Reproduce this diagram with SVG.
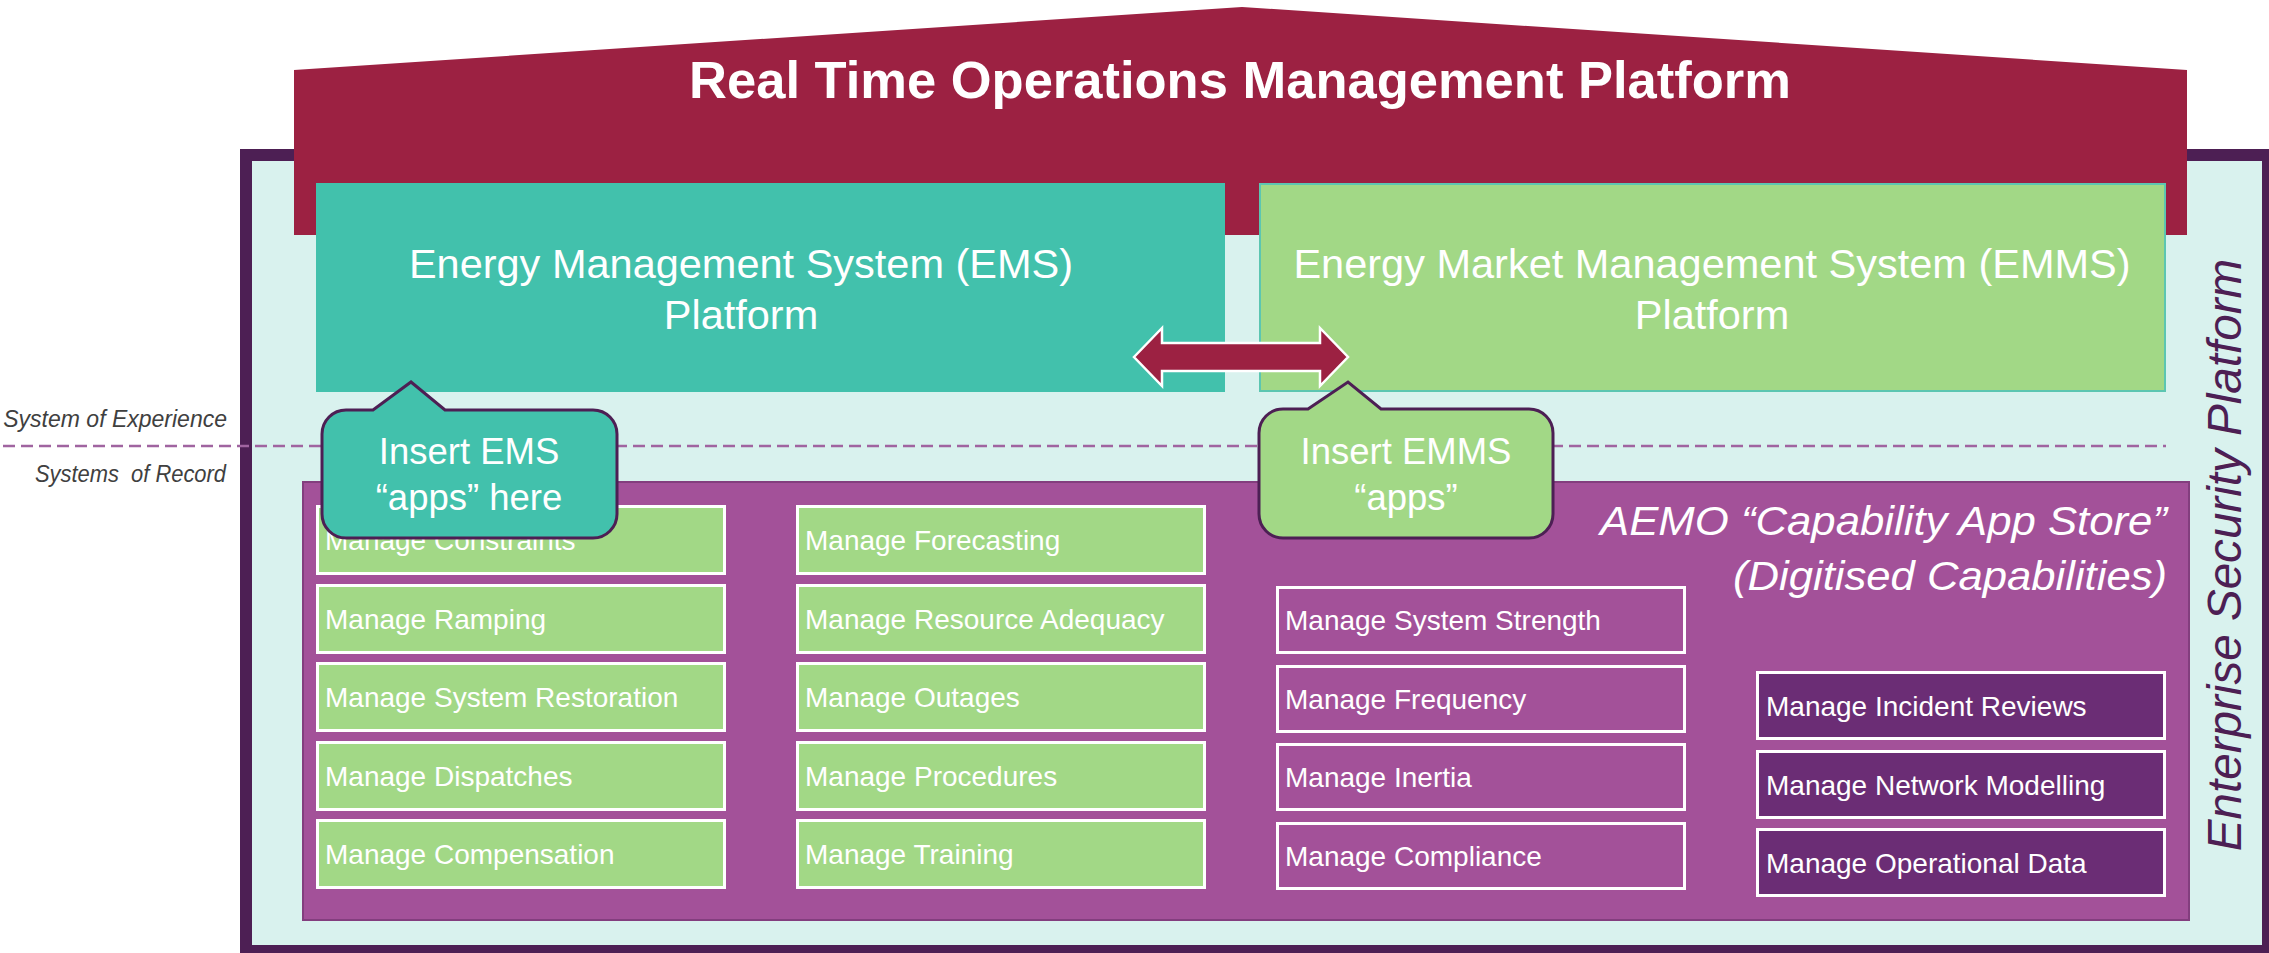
<svg xmlns="http://www.w3.org/2000/svg" width="2269" height="953" viewBox="0 0 2269 953">
<style>
.sans{font-family:"Liberation Sans",Arial,sans-serif}
.it{font-family:"Liberation Sans",Arial,sans-serif;font-style:italic}
.app{font-family:"Liberation Sans",Arial,sans-serif;font-size:28px;fill:#fff}
.g{fill:#A2D886;stroke:#fff;stroke-width:3}
.p{fill:#A35199;stroke:#fff;stroke-width:3}
.d{fill:#6B2D75;stroke:#fff;stroke-width:3}
.callout-t{font-family:"Liberation Sans",Arial,sans-serif;font-size:36.5px;fill:#fff;text-anchor:middle}
.plat{font-family:"Liberation Sans",Arial,sans-serif;font-size:41.5px;fill:#fff;text-anchor:middle}
</style>
<rect width="2269" height="953" fill="#fff"/>
<g id="enterprise-security-platform">
<rect x="246" y="155" width="2022" height="796" fill="#D9F2EE" stroke="#4D1F54" stroke-width="12"/>
<text class="it" x="2241" y="555" font-size="47.6" fill="#4D1F54" text-anchor="middle" transform="rotate(-90 2241 555)">Enterprise Security Platform</text>
</g>
<g id="rtomp">
<polygon points="294,70 1242,7 2187,70 2187,235 294,235" fill="#9C2142"/>
<text class="sans" x="1240" y="98" font-size="52.5" font-weight="bold" fill="#fff" text-anchor="middle">Real Time Operations Management Platform</text>
</g>
<g id="ems">
<rect x="316" y="183" width="909" height="209" fill="#42C1AC"/>
<text class="plat" x="741" y="278">Energy Management System (EMS)</text>
<text class="plat" x="741" y="329">Platform</text>
</g>
<g id="emms">
<rect x="1260" y="184" width="905" height="207" fill="#A2D886" stroke="#5CC6B1" stroke-width="2"/>
<text class="plat" x="1712" y="278">Energy Market Management System (EMMS)</text>
<text class="plat" x="1712" y="329">Platform</text>
</g>
<g id="layer-labels">
<line x1="3" y1="446" x2="2166" y2="446" stroke="#A064A0" stroke-width="2.5" stroke-dasharray="12 6"/>
<text class="it" x="227" y="427" font-size="23" fill="#404040" text-anchor="end">System of Experience</text>
<text class="it" x="226" y="482" font-size="23" fill="#404040" text-anchor="end" style="white-space:pre" textLength="191" lengthAdjust="spacingAndGlyphs">Systems  of Record</text>
</g>
<g id="app-store">
<rect x="303" y="482" width="1886" height="438" fill="#A35199" stroke="#833E7E" stroke-width="2"/>
<text class="it" x="2167" y="535" font-size="40" fill="#fff" text-anchor="end" textLength="567" lengthAdjust="spacingAndGlyphs">AEMO “Capability App Store”</text>
<text class="it" x="2167" y="590" font-size="40" fill="#fff" text-anchor="end" textLength="434" lengthAdjust="spacingAndGlyphs">(Digitised Capabilities)</text>
</g>
<g id="col1">
<g id="manage-constraints"><rect class="g" x="317.5" y="506.5" width="407" height="67"/><text class="app" x="325" y="550">Manage Constraints</text></g>
<g id="manage-ramping"><rect class="g" x="317.5" y="585.5" width="407" height="67"/><text class="app" x="325" y="629">Manage Ramping</text></g>
<g id="manage-system-restoration"><rect class="g" x="317.5" y="663.5" width="407" height="67"/><text class="app" x="325" y="707">Manage System Restoration</text></g>
<g id="manage-dispatches"><rect class="g" x="317.5" y="742.5" width="407" height="67"/><text class="app" x="325" y="786">Manage Dispatches</text></g>
<g id="manage-compensation"><rect class="g" x="317.5" y="820.5" width="407" height="67"/><text class="app" x="325" y="864">Manage Compensation</text></g>
</g>
<g id="col2">
<g id="manage-forecasting"><rect class="g" x="797.5" y="506.5" width="407" height="67"/><text class="app" x="805" y="550">Manage Forecasting</text></g>
<g id="manage-resource-adequacy"><rect class="g" x="797.5" y="585.5" width="407" height="67"/><text class="app" x="805" y="629">Manage Resource Adequacy</text></g>
<g id="manage-outages"><rect class="g" x="797.5" y="663.5" width="407" height="67"/><text class="app" x="805" y="707">Manage Outages</text></g>
<g id="manage-procedures"><rect class="g" x="797.5" y="742.5" width="407" height="67"/><text class="app" x="805" y="786">Manage Procedures</text></g>
<g id="manage-training"><rect class="g" x="797.5" y="820.5" width="407" height="67"/><text class="app" x="805" y="864">Manage Training</text></g>
</g>
<g id="col3">
<g id="manage-system-strength"><rect class="p" x="1277.5" y="587.5" width="407" height="65"/><text class="app" x="1285" y="630">Manage System Strength</text></g>
<g id="manage-frequency"><rect class="p" x="1277.5" y="666.5" width="407" height="65"/><text class="app" x="1285" y="709">Manage Frequency</text></g>
<g id="manage-inertia"><rect class="p" x="1277.5" y="744.5" width="407" height="65"/><text class="app" x="1285" y="787">Manage Inertia</text></g>
<g id="manage-compliance"><rect class="p" x="1277.5" y="823.5" width="407" height="65"/><text class="app" x="1285" y="866">Manage Compliance</text></g>
</g>
<g id="col4">
<g id="manage-incident-reviews"><rect class="d" x="1757.5" y="672.5" width="407" height="66"/><text class="app" x="1766" y="716">Manage Incident Reviews</text></g>
<g id="manage-network-modelling"><rect class="d" x="1757.5" y="751.5" width="407" height="66"/><text class="app" x="1766" y="795">Manage Network Modelling</text></g>
<g id="manage-operational-data"><rect class="d" x="1757.5" y="829.5" width="407" height="66"/><text class="app" x="1766" y="873">Manage Operational Data</text></g>
</g>
<g id="connectors">
<polygon points="1134,357 1162,328 1162,343 1320,343 1320,328 1348,357 1320,386 1320,371 1162,371 1162,386" fill="#9C2142" stroke="#fff" stroke-width="2.5" stroke-linejoin="miter"/>
</g>
<g id="callout-ems">
<path d="M346,410 L373,410 L411,382 L445,410 L593,410 A24,24 0 0 1 617,434 L617,514 A24,24 0 0 1 593,538 L346,538 A24,24 0 0 1 322,514 L322,434 A24,24 0 0 1 346,410 Z" fill="#42C1AC" stroke="#4D1F54" stroke-width="3"/>
<text class="callout-t" x="469" y="464">Insert EMS</text>
<text class="callout-t" x="469" y="510">“apps” here</text>
</g>
<g id="callout-emms">
<path d="M1283,409 L1308,409 L1348,382 L1381,409 L1529,409 A24,24 0 0 1 1553,433 L1553,514 A24,24 0 0 1 1529,538 L1283,538 A24,24 0 0 1 1259,514 L1259,433 A24,24 0 0 1 1283,409 Z" fill="#A2D886" stroke="#4D1F54" stroke-width="3"/>
<text class="callout-t" x="1406" y="464">Insert EMMS</text>
<text class="callout-t" x="1406" y="510">“apps”</text>
</g>
</svg>
